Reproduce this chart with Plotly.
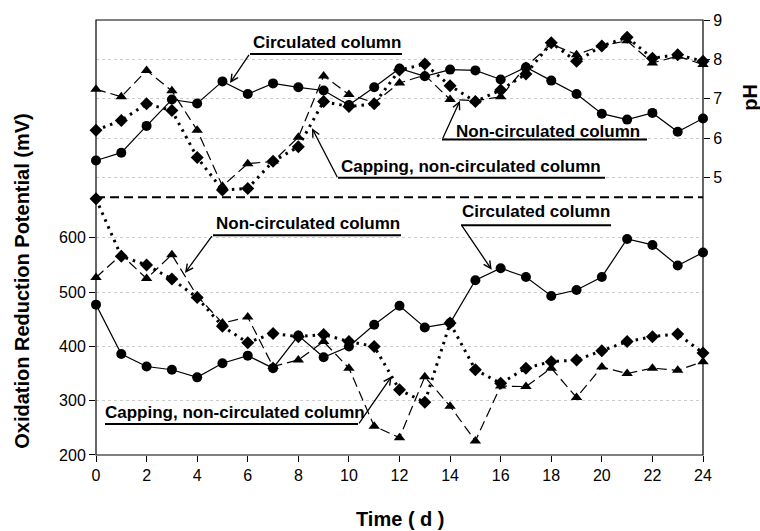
import plotly.graph_objects as go

# ---------------- data ----------------
days = list(range(25))

ph_circulated = [5.43, 5.63, 6.31, 6.98, 6.88, 7.44, 7.12, 7.39, 7.29, 7.21, 6.84, 7.29, 7.77,
                 7.57, 7.74, 7.72, 7.49, 7.80, 7.46, 7.12, 6.62, 6.47, 6.64, 6.16, 6.50]
ph_noncirculated = [7.24, 7.05, 7.72, 7.20, 6.20, 4.78, 5.35, 5.41, 6.02, 7.58, 7.11, 6.90, 7.40,
                    7.60, 6.98, 6.95, 7.05, 7.82, 8.39, 8.12, 8.35, 8.47, 7.91, 8.08, 7.87]
ph_capping = [6.20, 6.45, 6.87, 6.70, 5.51, 4.68, 4.72, 5.41, 5.78, 6.93, 6.80, 6.87, 7.73,
              7.88, 7.33, 6.93, 7.22, 7.63, 8.42, 7.95, 8.34, 8.56, 8.03, 8.12, 7.95]

orp_circulated = [477, 386, 363, 357, 343, 369, 383, 360, 420, 380, 400, 440, 475,
                  435, 443, 522, 544, 528, 493, 504, 528, 598, 587, 549, 573]
orp_noncirculated = [527, 569, 525, 569, 493, 443, 454, 363, 375, 409, 360, 253, 232,
                     344, 290, 226, 327, 326, 360, 306, 362, 350, 360, 356, 372]
orp_capping = [672, 566, 550, 524, 490, 437, 407, 424, 418, 422, 409, 400, 320,
               297, 443, 357, 332, 360, 372, 375, 392, 409, 418, 423, 388]

x_ticks = list(range(0, 25, 2))
orp_ticks = [200, 300, 400, 500, 600]
ph_ticks = [5, 6, 7, 8, 9]

# ---------------- styling ----------------
FONT = "Liberation Sans, Arial, sans-serif"
SPLIT = 262 / 442  # boundary between the ORP (bottom) and pH (top) panels

styles = {
    "circ": dict(line=dict(color="black", width=1.2),
                 marker=dict(symbol="circle", size=10, color="black")),
    "non": dict(line=dict(color="black", width=1.2, dash="10px,5px"),
                marker=dict(symbol="triangle-up", size=10, color="black")),
    "cap": dict(line=dict(color="black", width=3, dash="2.5px,5px"),
                marker=dict(symbol="diamond", size=10, color="black")),
}

fig = go.Figure()
for vals, key, yax in [
    (ph_capping, "cap", "y2"), (ph_noncirculated, "non", "y2"), (ph_circulated, "circ", "y2"),
    (orp_capping, "cap", "y"), (orp_noncirculated, "non", "y"), (orp_circulated, "circ", "y"),
]:
    fig.add_trace(go.Scatter(x=days, y=vals, mode="lines+markers", yaxis=yax,
                             cliponaxis=False, showlegend=False, **styles[key]))

axis_common = dict(ticks="outside", ticklen=6, tickcolor="black", tickwidth=1,
                   zeroline=False, showline=False,
                   tickfont=dict(family=FONT, size=16, color="black"))

fig.update_layout(
    width=760, height=531,
    margin=dict(l=96, r=57, t=13, b=76),
    paper_bgcolor="white", plot_bgcolor="white",
    font=dict(family=FONT, color="black"),
    xaxis=dict(range=[0, 24], tickvals=x_ticks, showgrid=False, **axis_common),
    yaxis=dict(domain=[0, SPLIT], range=[200, 675], tickvals=orp_ticks,
               showgrid=True, gridcolor="#cccccc", griddash="dot", gridwidth=1,
               **axis_common),
    yaxis2=dict(domain=[SPLIT, 1], range=[4.5, 9], tickvals=ph_ticks, side="right",
                anchor="x", showgrid=True, gridcolor="#cccccc", griddash="dot", gridwidth=1,
                **axis_common),
)

# frame and panel divider
fig.add_shape(type="rect", xref="paper", yref="paper", x0=0, x1=1, y0=0, y1=1,
              line=dict(color="black", width=1.2), layer="above")
fig.add_shape(type="line", xref="paper", yref="paper", x0=0, x1=1, y0=SPLIT, y1=SPLIT,
              line=dict(color="black", width=2, dash="9px,5px"), layer="above")


def px_to_paper(px, py):
    return (px - 96) / 607, (455 - py) / 442


def label(text, cx, cy, ux0, ux1, uy, tip, tail):
    x, y = px_to_paper(cx, cy)
    fig.add_annotation(text=f"<b>{text}</b>", x=x, y=y, xref="paper", yref="paper",
                       showarrow=False, xanchor="center", yanchor="middle",
                       font=dict(family=FONT, size=17, color="black"))
    a0, b0 = px_to_paper(ux0, uy)
    a1, _ = px_to_paper(ux1, uy)
    fig.add_shape(type="line", xref="paper", yref="paper", x0=a0, x1=a1, y0=b0, y1=b0,
                  line=dict(color="black", width=2))
    tx, ty = px_to_paper(*tip)
    fig.add_annotation(text="", x=tx, y=ty, xref="paper", yref="paper", showarrow=True,
                       ax=tail[0] - tip[0], ay=tail[1] - tip[1], arrowhead=5,
                       arrowsize=1.1, arrowwidth=1.3, arrowcolor="black", standoff=0)


# top panel (pH)
label("Circulated column", 327, 36, 250, 402, 47.5, (230, 77), (250, 47.5))
label("Non-circulated column", 548, 126.5, 442, 647, 134.3, (460, 95), (442, 134.3))
label("Capping, non-circulated column", 471, 161.5, 338, 605, 173.3, (312, 123), (338, 173.3))
# bottom panel (ORP)
label("Non-circulated column", 307.5, 220, 213, 401, 231.7, (185, 270), (213, 231.7))
label("Circulated column", 536, 207.3, 461, 611, 221.5, (491.7, 266.7), (461, 221.5))
label("Capping, non-circulated column", 235, 411.5, 105, 358, 423.5, (391.7, 375), (358, 423.5))

# axis titles
tx, ty = px_to_paper(22, 278)
fig.add_annotation(text="<b>Oxidation Reduction Potential (mV)</b>", x=tx, y=ty,
                   xref="paper", yref="paper", showarrow=False, textangle=-90,
                   xanchor="center", yanchor="middle",
                   font=dict(family=FONT, size=20, color="black"))
tx, ty = px_to_paper(750, 92)
fig.add_annotation(text="<b>pH</b>", x=tx, y=ty, xref="paper", yref="paper",
                   showarrow=False, textangle=-90, xanchor="center", yanchor="middle",
                   font=dict(family=FONT, size=20, color="black"))
tx, ty = px_to_paper(400.5, 520)
fig.add_annotation(text="<b>Time ( d )</b>", x=tx, y=ty, xref="paper", yref="paper",
                   showarrow=False, xanchor="center", yanchor="middle",
                   font=dict(family=FONT, size=20, color="black"))

fig.write_html("out.html")
